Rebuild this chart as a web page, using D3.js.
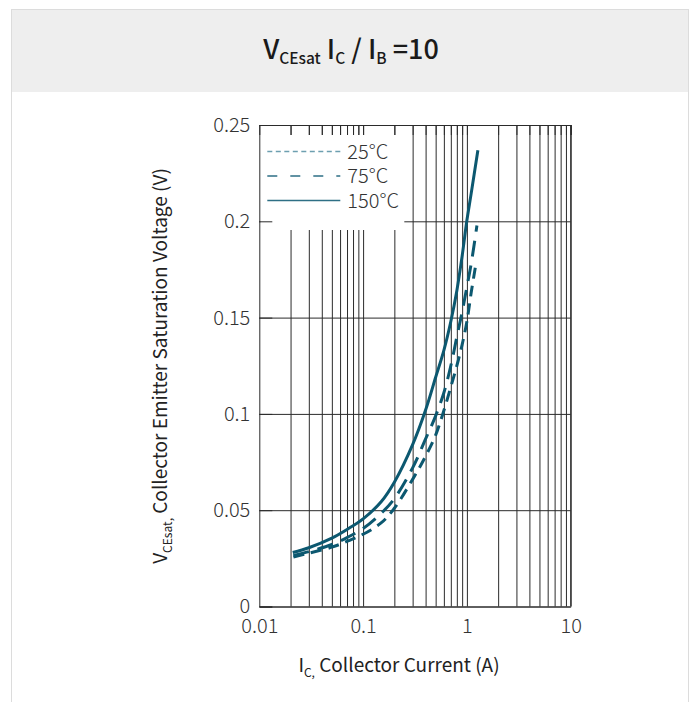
<!DOCTYPE html>
<html lang="en">
<head>
    <meta charset="UTF-8">
    <title>VCEsat IC / IB = 10</title>
    <script src="https://d3js.org/d3.v7.min.js"></script>
    <style>
        body {
            margin: 0;
            background-color: #ffffff;
        }
        text {
            font-family: 'Noto Sans CJK SC', 'Noto Sans', sans-serif;
        }
    </style>
</head>
<body>
    <script>
        // Data (collector current in A, VCEsat in V)
        const current25 = [0.0213, 0.03, 0.05, 0.07, 0.1, 0.15, 0.2, 0.3, 0.4, 0.5, 0.587, 0.7, 0.8, 0.9, 1.0, 1.1, 1.21];
        const vce25 = [0.0257, 0.0277, 0.0308, 0.0338, 0.0375, 0.0435, 0.051, 0.066, 0.078, 0.089, 0.1001, 0.114, 0.125, 0.136, 0.148, 0.163, 0.1766];

        const current75 = [0.0213, 0.03, 0.05, 0.07, 0.1, 0.15, 0.2, 0.3, 0.4, 0.5, 0.6, 0.7, 0.8, 0.9, 1.0, 1.1, 1.249];
        const vce75 = [0.0265, 0.0285, 0.0322, 0.0358, 0.0405, 0.0485, 0.056, 0.072, 0.087, 0.099, 0.111, 0.125, 0.140, 0.153, 0.166, 0.178, 0.1978];

        const current150 = [0.021, 0.03, 0.05, 0.07, 0.1, 0.15, 0.2, 0.3, 0.4, 0.5, 0.6, 0.7, 0.8, 0.9, 1.0, 1.1, 1.276];
        const vce150 = [0.028, 0.0305, 0.0355, 0.040, 0.0455, 0.0545, 0.0645, 0.084, 0.102, 0.119, 0.133, 0.148, 0.164, 0.182, 0.2005, 0.2145, 0.2369];

        const seriesNames = ["25°C", "75°C", "150°C"];
        const xTickLabels = [0.01, 0.1, 1, 10];
        const yTickLabels = [0, 0.05, 0.1, 0.15, 0.2, 0.25];

        const W = 698, H = 702;
        const margin = {top: 125, right: 127.3, bottom: 95.5, left: 259.3},
              width = W - margin.left - margin.right,
              height = H - margin.top - margin.bottom;

        const teal = "#0c5870";

        const root = d3.select("body").append("svg")
            .attr("width", W)
            .attr("height", H);

        // frame and title band
        root.append("rect")
            .attr("x", 11.5).attr("y", 9.5)
            .attr("width", 677).attr("height", H)
            .attr("fill", "#fff").attr("stroke", "#dcdcdc");
        root.append("rect")
            .attr("x", 12).attr("y", 10)
            .attr("width", 676).attr("height", 82)
            .attr("fill", "#eeeeee");

        const title = root.append("text")
            .attr("x", 351).attr("y", 59)
            .attr("text-anchor", "middle")
            .attr("font-size", 27)
            .attr("font-weight", 500)
            .attr("fill", "#1a1a1a");
        title.append("tspan").text("V");
        title.append("tspan").attr("font-size", 15.5).attr("dy", 5).text("CEsat");
        title.append("tspan").attr("dy", -5).text(" I");
        title.append("tspan").attr("font-size", 15.5).attr("dy", 5).text("C");
        title.append("tspan").attr("dy", -5).text(" / I");
        title.append("tspan").attr("font-size", 15.5).attr("dy", 5).text("B");
        title.append("tspan").attr("dy", -5).text(" =10");

        const svg = root.append("g")
            .attr("transform", "translate(" + margin.left + "," + margin.top + ")");

        const x = d3.scaleLog().domain([0.01, 10]).range([0, width]);
        const y = d3.scaleLinear().domain([0, 0.25]).range([height, 0]);

        // minor values for the vertical grid
        const gridX = [];
        [0.01, 0.1, 1].forEach(function(d) {
            for (let k = 2; k <= 10; k++) gridX.push(+(d * k).toPrecision(3));
        });

        const gridColor = "#2b2b2b";
        const labelFont = "'Noto Sans CJK SC', sans-serif";

        // vertical grid
        svg.append("g")
            .attr("transform", "translate(0," + height + ")")
            .call(d3.axisBottom(x).tickValues(gridX).tickSize(-height).tickFormat(""))
            .call(g => g.select(".domain").remove())
            .call(g => g.selectAll("line").attr("stroke", gridColor));

        // horizontal grid
        svg.append("g")
            .call(d3.axisLeft(y).tickValues(yTickLabels).tickSize(-width).tickFormat(""))
            .call(g => g.select(".domain").remove())
            .call(g => g.selectAll("line").attr("stroke", gridColor));

        // legend box covers the grid
        const legend = svg.append("g");
        legend.append("rect")
            .attr("x", 1).attr("y", 10)
            .attr("width", 144).attr("height", 95)
            .attr("fill", "#fff");

        // short ticks along the top edge and left edge, drawn over the legend box
        svg.append("g")
            .call(d3.axisTop(x).tickValues(gridX).tickSize(-10).tickFormat(""))
            .call(g => g.select(".domain").attr("stroke", gridColor))
            .call(g => g.selectAll("line").attr("stroke", gridColor));

        svg.append("g")
            .call(d3.axisLeft(y).tickValues(yTickLabels).tickSize(-13).tickPadding(9)
                .tickFormat(d3.format("")))
            .call(g => g.select(".domain").attr("stroke", gridColor))
            .call(g => g.selectAll("line").attr("stroke", gridColor))
            .call(g => g.selectAll("text")
                .attr("font-size", 20).attr("font-weight", 300)
                .attr("fill", "#333").attr("font-family", labelFont));

        svg.append("g")
            .attr("transform", "translate(0," + height + ")")
            .call(d3.axisBottom(x).tickValues(xTickLabels).tickSize(0).tickPadding(12)
                .tickFormat(d3.format("")))
            .call(g => g.select(".domain").attr("stroke", gridColor))
            .call(g => g.selectAll("text")
                .attr("font-size", 20).attr("font-weight", 300)
                .attr("fill", "#333").attr("font-family", labelFont));

        svg.append("line")
            .attr("x1", width).attr("x2", width)
            .attr("y1", 0).attr("y2", height)
            .attr("stroke", gridColor);

        // curves
        const series = [
            {name: seriesNames[0], xs: current25, ys: vce25, dash: "11,7"},
            {name: seriesNames[1], xs: current75, ys: vce75, dash: "16,9"},
            {name: seriesNames[2], xs: current150, ys: vce150, dash: null}
        ];

        const line = d3.line()
            .x(d => x(d[0]))
            .y(d => y(d[1]))
            .curve(d3.curveCatmullRom.alpha(0.5));

        series.forEach(function(s) {
            svg.append("path")
                .datum(d3.zip(s.xs, s.ys))
                .attr("fill", "none")
                .attr("stroke", teal)
                .attr("stroke-width", 3)
                .attr("stroke-dasharray", s.dash)
                .attr("d", line);
        });

        // legend entries
        const legendStyle = [
            {color: "#6d9fb0", dash: "5,3.5"},
            {color: "#2e6f85", dash: "10,13"},
            {color: "#2e6f85", dash: null}
        ];
        seriesNames.forEach(function(name, i) {
            const ly = 26.5 + i * 24.5;
            legend.append("line")
                .attr("x1", 8).attr("x2", 81)
                .attr("y1", ly).attr("y2", ly)
                .attr("stroke", legendStyle[i].color)
                .attr("stroke-width", 1.5)
                .attr("stroke-dasharray", legendStyle[i].dash);
            legend.append("text")
                .attr("x", 88).attr("y", ly + 7)
                .attr("font-size", 20).attr("font-weight", 300)
                .attr("fill", "#333")
                .text(name);
        });

        // axis titles
        const xLabel = root.append("text")
            .attr("x", 399).attr("y", 672)
            .attr("text-anchor", "middle")
            .attr("font-size", 19)
            .attr("fill", "#222");
        xLabel.append("tspan").text("I");
        xLabel.append("tspan").attr("font-size", 12).attr("dy", 5).text("C,");
        xLabel.append("tspan").attr("dy", -5).text(" Collector Current (A)");

        const yLabel = root.append("text")
            .attr("transform", "translate(167,366) rotate(-90)")
            .attr("text-anchor", "middle")
            .attr("font-size", 19)
            .attr("fill", "#222");
        yLabel.append("tspan").text("V");
        yLabel.append("tspan").attr("font-size", 12).attr("dy", 5).text("CEsat,");
        yLabel.append("tspan").attr("dy", -5).text(" Collector Emitter Saturation Voltage (V)");
    </script>
</body>
</html>
